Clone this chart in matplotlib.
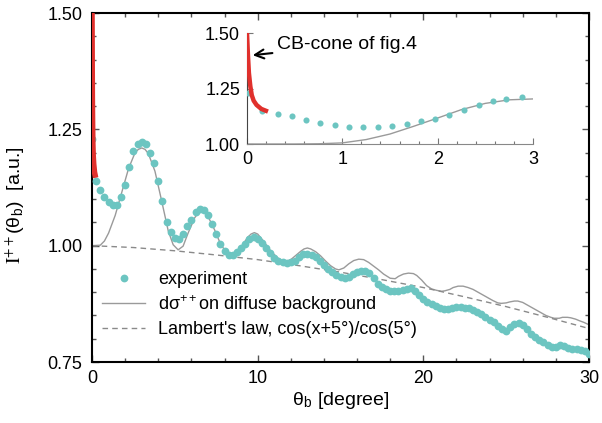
import matplotlib
matplotlib.use("Agg")
import matplotlib.pyplot as plt
from matplotlib.ticker import MultipleLocator

plt.rcParams['font.family'] = ['Liberation Sans', 'DejaVu Sans']
plt.rcParams['mathtext.fontset'] = 'stix'

# ---------------- data ----------------
exp_x = [0.0, 0.25, 0.5, 0.75, 1.0, 1.25, 1.5, 1.75, 2.0, 2.25, 2.5, 2.75, 3.0, 3.25, 3.5, 3.75,
         4.0, 4.25, 4.5, 4.75, 5.0, 5.25, 5.5, 5.75, 6.0, 6.25, 6.5, 6.75, 7.0, 7.25, 7.5, 7.75,
         8.0, 8.25, 8.5, 8.75, 9.0, 9.25, 9.5, 9.75, 10.0, 10.25, 10.5, 10.75, 11.0, 11.25, 11.5, 11.75,
         12.0, 12.25, 12.5, 12.75, 13.0, 13.25, 13.5, 13.75, 14.0, 14.25, 14.5, 14.75, 15.0, 15.25, 15.5, 15.75,
         16.0, 16.25, 16.5, 16.75, 17.0, 17.25, 17.5, 17.75, 18.0, 18.25, 18.5, 18.75, 19.0, 19.25, 19.5, 19.75,
         20.0, 20.25, 20.5, 20.75, 21.0, 21.25, 21.5, 21.75, 22.0, 22.25, 22.5, 22.75, 23.0, 23.25, 23.5, 23.75,
         24.0, 24.25, 24.5, 24.75, 25.0, 25.25, 25.5, 25.75, 26.0, 26.25, 26.5, 26.75, 27.0, 27.25, 27.5, 27.75,
         28.0, 28.25, 28.5, 28.75, 29.0, 29.25, 29.5, 29.75, 30.0]
exp_y = [1.230, 1.140, 1.120, 1.105, 1.093, 1.087, 1.087, 1.104, 1.130, 1.168, 1.204, 1.218, 1.222, 1.218, 1.200, 1.178,
         1.140, 1.095, 1.050, 1.030, 1.017, 1.014, 1.024, 1.042, 1.056, 1.072, 1.078, 1.076, 1.066, 1.046, 1.024, 1.003,
         0.988, 0.980, 0.980, 0.987, 0.995, 1.004, 1.014, 1.018, 1.015, 1.005, 0.995, 0.984, 0.974, 0.968, 0.964, 0.963,
         0.964, 0.968, 0.976, 0.982, 0.983, 0.981, 0.976, 0.967, 0.958, 0.950, 0.944, 0.937, 0.933, 0.931, 0.933, 0.939,
         0.943, 0.945, 0.945, 0.941, 0.930, 0.918, 0.911, 0.906, 0.903, 0.902, 0.903, 0.905, 0.907, 0.908, 0.903, 0.893,
         0.886, 0.880, 0.875, 0.870, 0.866, 0.864, 0.863, 0.865, 0.868, 0.868, 0.867, 0.865, 0.862, 0.858, 0.853, 0.847,
         0.841, 0.835, 0.828, 0.821, 0.817, 0.826, 0.831, 0.833, 0.829, 0.821, 0.811, 0.804, 0.798, 0.792, 0.787, 0.782,
         0.783, 0.786, 0.785, 0.781, 0.779, 0.778, 0.776, 0.773, 0.768]

theo_x = [0.0, 0.5, 0.75, 1.0, 1.4, 1.8, 2.2, 2.6, 2.8, 3.0, 3.2, 3.4, 3.8, 4.2, 4.6, 4.9, 5.2, 5.5, 5.8,
          6.2, 6.4, 6.6, 6.8, 7.0, 7.4, 7.8, 8.2, 8.4, 8.6, 9.0, 9.4, 9.6, 9.8, 10.0, 10.3, 10.8, 11.2,
          11.5, 11.7, 12.0, 12.3, 12.6, 12.8, 13.0, 13.2, 13.5, 13.8, 14.1, 14.4, 14.7, 14.9, 15.2, 15.5,
          15.8, 16.1, 16.4, 16.7, 17.0, 17.3, 17.6, 18.0, 18.3, 18.5, 18.8, 19.1, 19.4, 19.6, 19.9, 20.2,
          20.5, 20.8, 21.1, 21.3, 21.6, 21.8, 22.1, 22.4, 22.7, 23.0, 23.3, 23.6, 23.9, 24.2, 24.5, 24.7,
          25.0, 25.2, 25.5, 25.7, 26.0, 26.3, 26.6, 26.8, 27.1, 27.4, 27.7, 27.9, 28.2, 28.4, 28.7, 28.9,
          29.2, 29.4, 29.7, 30.0]
theo_y = [1.000, 1.001, 1.010, 1.027, 1.065, 1.115, 1.165, 1.200, 1.207, 1.210, 1.207, 1.198, 1.160, 1.097, 1.032,
          1.002, 0.991, 0.999, 1.027, 1.060, 1.070, 1.074, 1.071, 1.063, 1.034, 1.000, 0.984, 0.982, 0.985,
          0.997, 1.018, 1.025, 1.028, 1.025, 1.012, 0.988, 0.974, 0.967, 0.966, 0.970, 0.979, 0.988, 0.993,
          0.995, 0.993, 0.987, 0.978, 0.967, 0.957, 0.950, 0.948, 0.952, 0.961, 0.968, 0.971, 0.970, 0.964,
          0.956, 0.948, 0.939, 0.930, 0.929, 0.934, 0.939, 0.941, 0.940, 0.936, 0.926, 0.914, 0.907, 0.904,
          0.902, 0.903, 0.906, 0.910, 0.913, 0.913, 0.910, 0.906, 0.900, 0.894, 0.888, 0.882, 0.877, 0.876,
          0.877, 0.879, 0.881, 0.881, 0.878, 0.872, 0.866, 0.862, 0.856, 0.850, 0.846, 0.844, 0.844, 0.846,
          0.846, 0.845, 0.842, 0.839, 0.835, 0.830]

lam_x = [0.0, 2.5, 5.0, 7.5, 10.0, 12.5, 15.0, 17.5, 20.0, 22.5, 25.0, 27.5, 30.0]
lam_y = [1.000, 0.996, 0.989, 0.980, 0.970, 0.957, 0.943, 0.927, 0.910, 0.890, 0.869, 0.846, 0.822]

cone_x = [0.0, 0.01, 0.02, 0.035, 0.05, 0.07, 0.1, 0.15, 0.22]
cone_y = [1.50, 1.40, 1.32, 1.26, 1.22, 1.195, 1.176, 1.158, 1.146]

in_exp_x = [0.01, 0.16, 0.32, 0.47, 0.62, 0.77, 0.92, 1.07, 1.22, 1.37, 1.52, 1.68, 1.83, 1.97,
            2.12, 2.28, 2.43, 2.58, 2.72, 2.88]
in_exp_y = [1.228, 1.150, 1.134, 1.126, 1.108, 1.096, 1.086, 1.078, 1.078, 1.078, 1.081, 1.090,
            1.104, 1.114, 1.131, 1.153, 1.174, 1.194, 1.204, 1.213]

in_theo_x = [0.0, 0.5, 0.75, 1.0, 1.25, 1.5, 1.75, 2.0, 2.25, 2.5, 2.75, 3.0]
in_theo_y = [1.000, 1.000, 1.001, 1.005, 1.020, 1.045, 1.080, 1.117, 1.155, 1.183, 1.199, 1.203]

TEAL = '#6cc5c1'
RED = '#e0302c'
GRAY = '#9a9a9a'

fig = plt.figure(figsize=(6.02, 4.23), dpi=100)
ax = fig.add_axes([92/602, 1-362/423, (589-92)/602, (362-13)/423])

ax.plot(exp_x, exp_y, 'o', color=TEAL, ms=5.6, mec='none', label='experiment', zorder=3)
ax.plot(theo_x, theo_y, '-', color=GRAY, lw=1.0, label=r'dσ$^{\mathregular{++}}$on diffuse background', zorder=2)
ax.plot(lam_x, lam_y, '--', color='#8a8a8a', lw=1.0, dashes=(4, 3),
        label="Lambert's law, cos(x+5°)/cos(5°)", zorder=2)
ax.plot(cone_x, cone_y, '-', color=RED, lw=4, solid_capstyle='butt', zorder=4)

ax.set_xlim(0, 30)
ax.set_ylim(0.75, 1.5)
ax.set_xticks([0, 10, 20, 30])
ax.set_yticks([0.75, 1.00, 1.25, 1.50])
ax.set_yticklabels(['0.75', '1.00', '1.25', '1.50'])
ax.xaxis.set_minor_locator(MultipleLocator(2))
ax.yaxis.set_minor_locator(MultipleLocator(0.05))
ax.tick_params(which='both', direction='in', top=True, right=True, labelsize=13, width=1, color='#555555')
ax.tick_params(which='major', length=5)
ax.tick_params(which='minor', length=3)
ax.tick_params(axis='y', pad=7)
ax.tick_params(axis='x', pad=6)
for s in ax.spines.values():
    s.set_linewidth(1.5)

ax.set_xlabel(r'θ$_\mathregular{b}$ [degree]', fontsize=14, labelpad=2)
ax.set_ylabel(r'$\mathrm{I}^{++}$(θ$_\mathregular{b}$)  [a.u.]', fontsize=14)
ax.yaxis.set_label_coords(-0.13, 0.45)

leg = ax.legend(loc='upper left', bbox_to_anchor=(0.02, 0.26), frameon=False, fontsize=13,
                handlelength=2.4, handletextpad=0.7, labelspacing=0.3, borderpad=0, borderaxespad=0,
                markerscale=1.0, numpoints=1)

# ---------------- inset ----------------
axi = fig.add_axes([247/602, 1-144/423, (533-247)/602, (144-33)/423])
axi.plot(in_theo_x, in_theo_y, '-', color=GRAY, lw=1.0, zorder=2)
axi.plot(in_exp_x, in_exp_y, 'o', color=TEAL, ms=4.4, mec='none', zorder=3)
axi.plot(cone_x, cone_y, '-', color=RED, lw=3.2, solid_capstyle='butt', zorder=4)
axi.set_xlim(0, 3)
axi.set_ylim(1.0, 1.5)
axi.set_xticks([0, 1, 2, 3])
axi.set_yticks([1.00, 1.25, 1.50])
axi.set_yticklabels(['1.00', '1.25', '1.50'])
axi.xaxis.set_minor_locator(MultipleLocator(0.2))
axi.spines['top'].set_visible(False)
axi.spines['right'].set_visible(False)
axi.spines['left'].set_color('#444444')
axi.spines['bottom'].set_color('#888888')
axi.tick_params(which='both', direction='in', labelsize=13, color='#777777', width=0.8)
axi.tick_params(which='major', length=4, pad=5)
axi.tick_params(which='minor', length=2)
axi.patch.set_alpha(0)
axi.annotate('CB-cone of fig.4', xy=(0.06, 1.40), xytext=(0.31, 1.446), fontsize=14,
             ha='left', va='center',
             arrowprops=dict(arrowstyle='->', color='black', lw=1.5, shrinkA=1, shrinkB=0,
                             mutation_scale=16))

fig.savefig('out.png', dpi=100)
